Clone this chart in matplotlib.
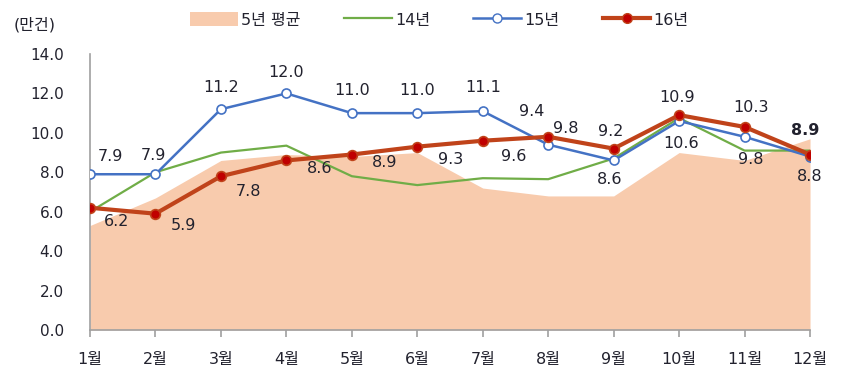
import matplotlib
matplotlib.use("Agg")
import matplotlib.pyplot as plt
from matplotlib.patches import Patch
from matplotlib.lines import Line2D

plt.rcParams['font.family'] = ['DejaVu Sans', 'Noto Sans CJK KR']

months = ['1월', '2월', '3월', '4월', '5월', '6월', '7월', '8월', '9월', '10월', '11월', '12월']
avg5 = [5.3, 6.7, 8.6, 8.9, 8.8, 9.0, 7.2, 6.8, 6.8, 9.0, 8.6, 9.7]
y14 = [6.0, 8.0, 9.0, 9.35, 7.8, 7.35, 7.7, 7.65, 8.7, 10.75, 9.1, 9.1]
y15 = [7.9, 7.9, 11.2, 12.0, 11.0, 11.0, 11.1, 9.4, 8.6, 10.6, 9.8, 8.8]
y16 = [6.2, 5.9, 7.8, 8.6, 8.9, 9.3, 9.6, 9.8, 9.2, 10.9, 10.3, 8.9]
yticks = [0, 2, 4, 6, 8, 10, 12, 14]

c_area = '#F8CBAD'
c_green = '#70AD47'
c_blue = '#4472C4'
c_red = '#C0431A'
c_text = '#22222E'

fig = plt.figure(figsize=(8.6, 3.87), dpi=100)
ax = fig.add_axes([0.1047, 0.1473, 0.8372, 0.7132])
x = list(range(1, 13))

ax.fill_between(x, 0, avg5, color=c_area, linewidth=0, zorder=1)
ax.plot(x, y14, color=c_green, lw=1.6, zorder=2)
ax.plot(x, y15, color=c_blue, lw=1.8, marker='o', ms=6.5, mfc='white', mec=c_blue, mew=1.2, zorder=3)
ax.plot(x, y16, color=c_red, lw=3.0, marker='o', ms=7, mfc='#C00000', mec=c_red, mew=1.2, zorder=4)

ax.set_xlim(1, 12)
ax.set_ylim(0, 14)
ax.set_xticks(x)
ax.set_xticklabels(months)
ax.set_yticks(yticks)
ax.set_yticklabels([f'{v:.1f}' for v in yticks])
for s in ['top', 'right']:
    ax.spines[s].set_visible(False)
for s in ['left', 'bottom']:
    ax.spines[s].set_color('#A0A0A0')
    ax.spines[s].set_linewidth(1.2)
ax.tick_params(axis='y', length=0, pad=19, labelsize=11, labelcolor=c_text)
ax.tick_params(axis='x', length=5, color='#A0A0A0', width=1.2, pad=11, labelsize=11.5, labelcolor=c_text)

# data labels (offsets in pixels)
off16 = [(27, -14), (28, -12), (28, -15), (33, -8), (33, -8), (33, -13), (31, -16), (18, 8), (-3, 17), (-2, 18), (6, 19), (-5, 24)]
off15 = [(20, 18), (-2, 19), (0, 22), (0, 21), (0, 23), (0, 23), (0, 24), (-17, 33), (-4, -19), (2, -22), (6, -23), (0, -20)]
for i in range(12):
    ax.annotate(f'{y16[i]:.1f}', (x[i], y16[i]), xytext=off16[i], textcoords='offset pixels',
                ha='center', va='center', fontsize=11.5, color=c_text,
                fontweight='bold' if i == 11 else 'normal', zorder=6, annotation_clip=False)
    ax.annotate(f'{y15[i]:.1f}', (x[i], y15[i]), xytext=off15[i], textcoords='offset pixels',
                ha='center', va='center', fontsize=11.5, color=c_text, zorder=6, annotation_clip=False)

fig.text(14 / 860, 1 - 25 / 387, '(만건)', fontsize=11.5, color=c_text, va='center', ha='left')

handles = [
    Patch(facecolor=c_area, edgecolor='none'),
    Line2D([], [], color=c_green, lw=1.6),
    Line2D([], [], color=c_blue, lw=1.8, marker='o', ms=6.5, mfc='white', mec=c_blue),
    Line2D([], [], color=c_red, lw=3.0, marker='o', ms=7, mfc='#C00000', mec=c_red),
]
fig.legend(handles, ['5년 평균', '14년', '15년', '16년'], loc='center', bbox_to_anchor=(0.511, 1 - 20 / 387),
           ncol=4, frameon=False, handlelength=3.0, handletextpad=0.2, columnspacing=2.7,
           handleheight=1.0, labelcolor=c_text, prop={'size': 11.5})

fig.savefig('out.png', dpi=100)
